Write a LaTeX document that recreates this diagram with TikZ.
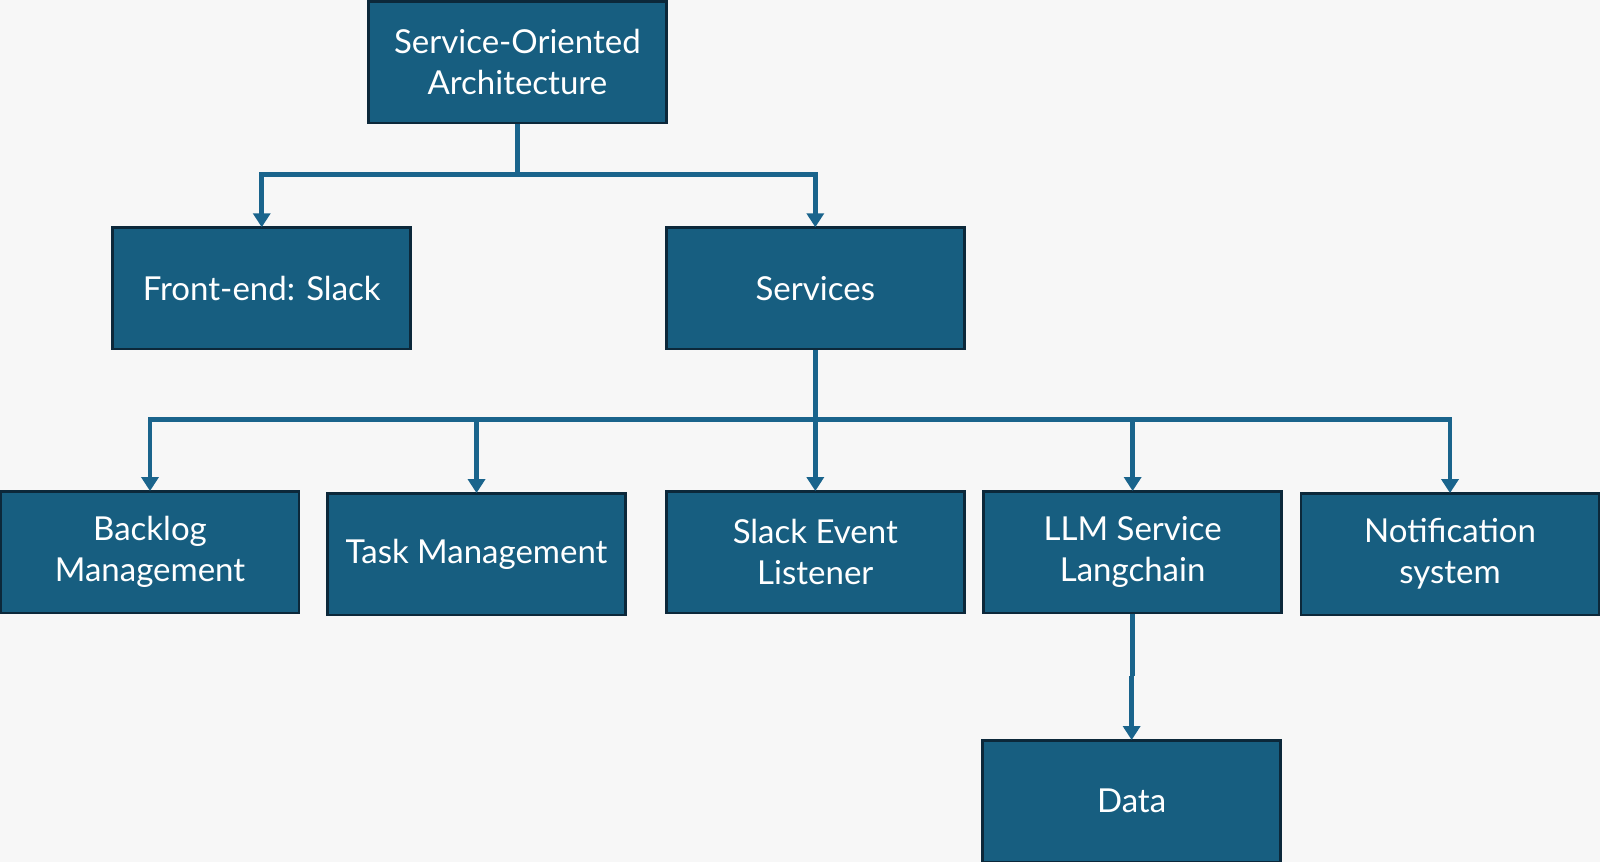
\documentclass[tikz,border=0pt]{standalone}
\usepackage{fontspec}
\setmainfont{Lato}
\usetikzlibrary{arrows.meta}
\definecolor{bgc}{RGB}{247,247,247}
\definecolor{boxfill}{RGB}{23,94,128}
\definecolor{boxline}{RGB}{12,40,58}
\definecolor{conn}{RGB}{26,100,140}
\tikzset{
  box/.style={draw=boxline, line width=2.5pt, fill=boxfill, text=white,
    minimum width=298pt, minimum height=121.5pt, inner sep=0pt, align=center,
    font=\fontsize{33}{41}\selectfont},
  conline/.style={draw=conn, line width=4.8pt},
  arr/.style={conline, -{Triangle[width=17pt,length=14pt]}, shorten >=-1pt},
}
\begin{document}
\begin{tikzpicture}[x=1.0204pt,y=-1.0204pt]
\fill[bgc] (0,0) rectangle (1568,844.76);
\useasboundingbox (0,0) rectangle (1568,844.76);
\node[box] (soa) at (507,61) {Service-Oriented\\Architecture};
\node[box] (fe) at (256.5,282.5) {Front-end: Slack};
\node[box] (svc) at (799,282.5) {Services};
\node[box] (bl) at (147,541) {Backlog\\Management};
\node[box] (tm) at (467,543) {Task Management};
\node[box] (se) at (799,541) {Slack Event\\Listener};
\node[box] (llm) at (1110,541) {LLM Service\\Langchain};
\node[box] (ns) at (1421,543) {Notification\\system};
\node[box] (data) at (1109,785) {Data};
\coordinate (j1) at (507,171);
\coordinate (j2) at (799,411);
\coordinate (j3) at (1110,662);
% top level
\draw[conline] (soa.south) -- (j1);
\draw[arr] (j1) -| (fe.north);
\draw[arr] (j1) -| (svc.north);
% services
\draw[conline] (svc.south) -- (j2);
\draw[arr] (j2) -| (bl.north);
\draw[arr] (j2) -| (tm.north);
\draw[arr] (j2) -- (se.north);
\draw[arr] (j2) -| (llm.north);
\draw[arr] (j2) -| (ns.north);
% llm to data
\draw[conline] (llm.south) -- (j3);
\draw[arr] (j3 -| data.north) -- (data.north);
\end{tikzpicture}
\end{document}
